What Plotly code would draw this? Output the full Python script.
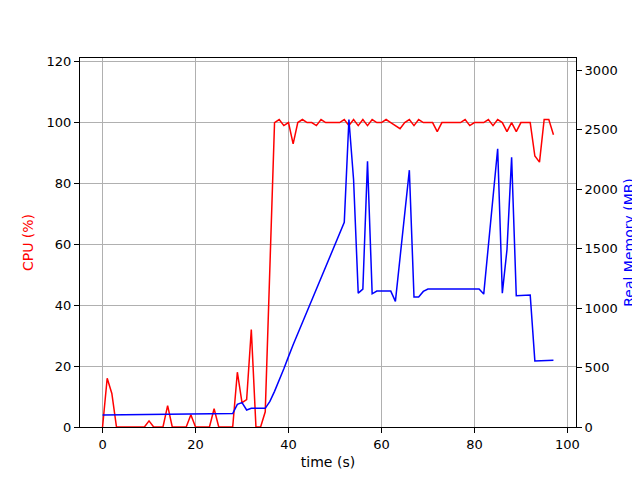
import plotly.graph_objects as go

# CPU usage (%) vs time (s)
cpu_time = [0, 1, 2, 3, 4, 5, 6, 7, 8, 9, 10, 11, 12, 13, 14, 15, 16, 17, 18, 19,
            20, 21, 22, 23, 24, 25, 26, 27, 28, 29, 30, 31, 32, 33, 34, 35,
            37, 38, 39, 40, 41, 42, 43, 44, 45, 46, 47, 48, 49, 50, 51, 52, 53, 54,
            55, 56, 57, 58, 59, 60, 61, 62, 63, 64, 65, 66, 67, 68, 69, 70, 71, 72,
            73, 74, 75, 76, 77, 78, 79, 80, 81, 82, 83, 84, 85, 86, 87, 88, 89, 90,
            91, 92, 93, 94, 95, 96, 97]
cpu_vals = [0, 16, 11, 0, 0, 0, 0, 0, 0, 0, 2, 0, 0, 0, 7, 0, 0, 0, 0, 4,
            0, 0, 0, 0, 6, 0, 0, 0, 0, 18, 8, 9, 32, 0, 0, 5,
            100, 101, 99, 100, 93, 100, 101, 100, 100, 99, 101, 100, 100, 100, 100, 101, 99, 101,
            99, 101, 99, 101, 100, 100, 101, 100, 99, 98, 100, 101, 99, 101, 100, 100, 100, 97,
            100, 100, 100, 100, 100, 101, 99, 100, 100, 100, 101, 99, 101, 100, 97, 100, 97, 100,
            100, 100, 89, 87, 101, 101, 96]

# Real memory (MB) vs time (s)
mem_time = [0, 13, 14, 28, 29, 30, 31, 32, 35, 36, 37, 38, 39, 40, 41, 52, 53, 54, 55,
            56, 57, 58, 59, 62, 63, 66, 67, 68, 69, 70, 81, 82, 85, 86, 87, 88, 89,
            92, 93, 97]
mem_vals = [100, 104, 110, 113, 191, 205, 143, 157, 157, 215, 300, 390, 490, 592, 691,
            1721, 2586, 2081, 1126, 1160, 2235, 1120, 1143, 1143, 1056, 2160, 1093, 1093,
            1140, 1160, 1160, 1118, 2340, 1126, 1491, 2269, 1104, 1110, 556, 562]

x_ticks = [0, 20, 40, 60, 80, 100]
cpu_ticks = [0, 20, 40, 60, 80, 100, 120]
mem_ticks = [0, 500, 1000, 1500, 2000, 2500, 3000]

font = dict(family="DejaVu Sans", size=13, color="black")

fig = go.Figure()
fig.add_trace(go.Scatter(x=cpu_time, y=cpu_vals, mode="lines",
                         line=dict(color="#ff0000", width=1.5), yaxis="y", showlegend=False))
fig.add_trace(go.Scatter(x=mem_time, y=mem_vals, mode="lines",
                         line=dict(color="#0000ff", width=1.5), yaxis="y2", showlegend=False))

tmax = max(cpu_time[-1], mem_time[-1])
pad = 0.05 * tmax

fig.update_layout(
    width=632, height=472,
    margin=dict(l=72, r=64, t=50, b=53, autoexpand=False),
    paper_bgcolor="white", plot_bgcolor="white",
    font=font,
    xaxis=dict(range=[-pad, tmax + pad], tickvals=x_ticks, showgrid=True,
               gridcolor="#b0b0b0", gridwidth=1, zeroline=False, automargin=False,
               showline=True, linecolor="black", linewidth=1, mirror=True,
               ticks="outside", ticklen=5, tickcolor="black",
               title=dict(text="time (s)", font=dict(size=14), standoff=6)),
    yaxis=dict(range=[0, max(cpu_vals) * 1.2], tickvals=cpu_ticks, showgrid=True,
               gridcolor="#b0b0b0", gridwidth=1, zeroline=False, automargin=False,
               showline=True, linecolor="black", linewidth=1,
               ticks="outside", ticklen=5, tickcolor="black",
               title=dict(text="CPU (%)", font=dict(color="#ff0000", size=14), standoff=9)),
    yaxis2=dict(range=[0, max(mem_vals) * 1.2], tickvals=mem_ticks, overlaying="y",
                side="right", showgrid=False, zeroline=False, automargin=False,
                showline=True, linecolor="black", linewidth=1,
                ticks="outside", ticklen=5, tickcolor="black",
                title=dict(text="Real Memory (MB)", font=dict(color="#0000ff", size=14), standoff=7)),
)

fig.write_html("out.html")
